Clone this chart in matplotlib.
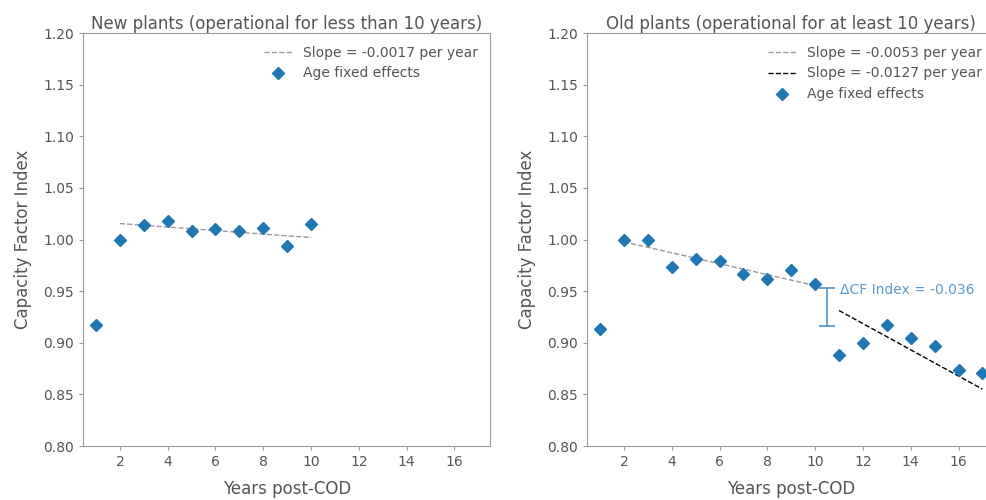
import numpy as np
import matplotlib.pyplot as plt

# Age fixed effects (capacity factor index) by years post-COD
years = np.arange(1, 18)
new_cf = [0.917, 1.000, 1.014, 1.018, 1.008, 1.010, 1.008, 1.011, 0.994, 1.015]
old_cf = [0.913, 1.000, 1.000, 0.973, 0.981, 0.979, 0.967, 0.962, 0.970, 0.957,
          0.888, 0.900, 0.917, 0.905, 0.897, 0.874, 0.871]

new_slope = -0.0017
old_slope_early = -0.0053
old_slope_late = -0.0127
delta_cf = -0.036

blue = '#1f77b4'
grey_txt = '#555555'
plt.rcParams['font.family'] = 'DejaVu Sans'
plt.rcParams['text.color'] = grey_txt
plt.rcParams['axes.labelcolor'] = grey_txt
plt.rcParams['xtick.color'] = grey_txt
plt.rcParams['ytick.color'] = grey_txt
plt.rcParams['axes.edgecolor'] = '#999999'

fig = plt.figure(figsize=(9.86, 5.0), dpi=100)
ax1 = fig.add_axes([0.0845, 0.108, 0.4128, 0.826])
ax2 = fig.add_axes([0.5957, 0.108, 0.4128, 0.826])


def fit_line(x, y, slope):
    # line with the given slope through the mean of the points
    x = np.asarray(x, float)
    y = np.asarray(y, float)
    return x, y.mean() + slope * (x - x.mean())


# left panel: new plants
x_new = years[:len(new_cf)]
fx, fy = fit_line(x_new[1:], new_cf[1:], new_slope)
ax1.plot(fx, fy, '--', color='#999999', lw=1,
         label='Slope = %.4f per year' % new_slope)
ax1.plot(x_new, new_cf, 'D', color=blue, ms=6, label='Age fixed effects')
ax1.set_title('New plants (operational for less than 10 years)', fontsize=12, pad=3)

# right panel: old plants
fx1, fy1 = fit_line(years[1:10], old_cf[1:10], old_slope_early)
fx2, fy2 = fit_line(years[10:], old_cf[10:], old_slope_late)
ax2.plot(fx1, fy1, '--', color='#999999', lw=1,
         label='Slope = %.4f per year' % old_slope_early)
ax2.plot(fx2, fy2, '--', color='black', lw=1,
         label='Slope = %.4f per year' % old_slope_late)
ax2.plot(years, old_cf, 'D', color=blue, ms=6, label='Age fixed effects')
ax2.set_title('Old plants (operational for at least 10 years)', fontsize=12, pad=3)

# drop in CF index between the two regimes
x_gap = 10.5
top = fy1[-1] + old_slope_early * (x_gap - fx1[-1])
ax2.errorbar([x_gap], [top + delta_cf / 2], yerr=[abs(delta_cf) / 2],
             fmt='none', ecolor='#5a9bd0', elinewidth=1.3, capsize=6, capthick=1.3)
ax2.text(x_gap + 0.55, top - 0.002, '\u0394CF Index = %.3f' % delta_cf,
         color='#5a9bd0', fontsize=10, va='center')

for ax in (ax1, ax2):
    ax.set_xlim(0.47, 17.5)
    ax.set_ylim(0.80, 1.20)
    ax.set_xticks(range(2, 18, 2))
    ax.set_yticks(np.arange(0.80, 1.201, 0.05))
    ax.set_yticklabels(['%.2f' % v for v in np.arange(0.80, 1.201, 0.05)])
    ax.tick_params(labelsize=10, length=3, color='#999999')
    ax.set_xlabel('Years post-COD', fontsize=12, labelpad=8)
    ax.set_ylabel('Capacity Factor Index', fontsize=12, labelpad=8)
    ax.legend(loc='upper right', frameon=False, fontsize=10)

fig.savefig('out.png', dpi=100)
